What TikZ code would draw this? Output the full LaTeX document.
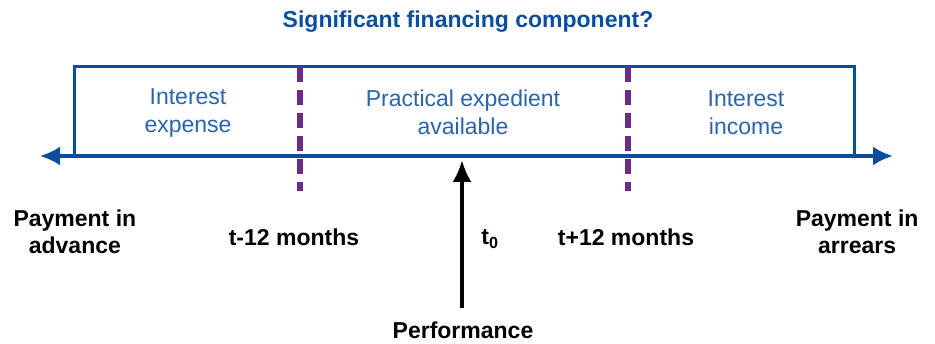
\documentclass[tikz,border=0pt]{standalone}
\usepackage{fontspec}
\setmainfont{Liberation Sans}
\usetikzlibrary{arrows.meta}
\definecolor{kblue}{HTML}{0B4F9C}
\definecolor{klight}{HTML}{2A64AA}
\definecolor{kpurple}{HTML}{6B2A8A}
\tikzstyle{axis} = [draw,kblue,line width=3.5pt,{Latex[length=20pt,width=19pt]}-{Latex[length=20pt,width=19pt]}]
\tikzstyle{zone} = [draw,kblue,line width=3pt]
\tikzstyle{limit} = [draw,kpurple,line width=6pt,dash pattern=on 15pt off 8pt]
\tikzstyle{region} = [font=\fontsize{23}{28}\selectfont,text=klight,align=center]
\tikzstyle{mark label} = [font=\fontsize{23}{27}\bfseries,align=center]
\tikzstyle{perf} = [draw,line width=3.5pt,-{Latex[length=22pt,width=19pt]}]

\begin{document}
\begin{tikzpicture}[x=1pt,y=-1pt]
\useasboundingbox (0,0) rectangle (935,344);
\node[font=\fontsize{23}{27}\bfseries,text=kblue] (title) at (468,22) {Significant financing component?};
% box and time line
\coordinate (L) at (40,156);
\coordinate (R) at (893,156);
\path[zone] (74,156) -- (74,67) -- (854,67) -- (854,156);
\path[axis] (L) -- (R);
\foreach \x/\name in {300/minus, 628/plus}{
  \coordinate (\name top) at (\x,67);
  \coordinate (\name bot) at (\x,191);
  \path[limit] (\name top) -- (\name bot);
}
\foreach \pos/\name/\txt in {{(188,113)/expense/Interest\\expense},
                             {(463,112)/expedient/Practical expedient\\available},
                             {(746,113)/income/Interest\\income}}{
  \node[region] (\name) at \pos {\txt};
}
\node[mark label,anchor=west] (advance) at (10,232) {Payment in\\advance};
\node[mark label,anchor=east] (arrears) at (922,232) {Payment in\\arrears};
\node[mark label] (tminus) at (294,237) {t-12 months};
\node[mark label] (tplus) at (626,237) {t+12 months};
\node[mark label] (tzero) at (490,239) {t$_{\mathbf{0}}$};
\node[mark label] (performance) at (463,330) {Performance};
\coordinate (perf base) at (462,308);
\coordinate (perf tip) at (462,160);
\path[perf] (perf base) -- (perf tip);
\end{tikzpicture}
\end{document}
